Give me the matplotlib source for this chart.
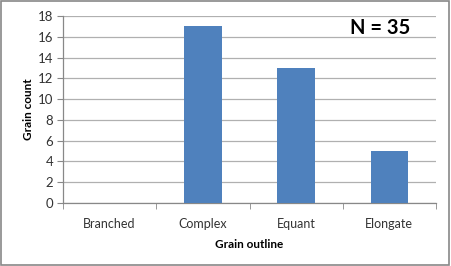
import numpy as np
import matplotlib.pyplot as plt
from matplotlib.patches import Rectangle

categories = ['Branched', 'Complex', 'Equant', 'Elongate']
counts = [0, 17, 13, 5]
n_total = 35

plt.rcParams['font.family'] = ['Lato', 'DejaVu Sans']

fig = plt.figure(figsize=(4.51, 2.66), dpi=100)
ax = fig.add_axes([63 / 451, 63 / 266, 373 / 451, 187 / 266])

x = np.arange(len(categories))
ax.bar(x, counts, width=0.4, color='#4F81BD', zorder=3)

ax.set_xlim(-0.5, len(categories) - 0.5)
ax.set_ylim(0, 18)
ax.set_yticks(np.arange(0, 19, 2))
ax.yaxis.grid(True, color='#b0b0b0', linewidth=0.9, zorder=0)
ax.set_xticks(x)
ax.set_xticklabels(categories, fontsize=9, color='#333333')
ax.set_xticks(np.arange(-0.5, len(categories)), minor=True)
ax.tick_params(axis='x', which='major', length=0, pad=11)
ax.tick_params(axis='x', which='minor', length=4, color='#888888', direction='out')
ax.tick_params(axis='y', length=4, color='#888888', labelsize=9.5, labelcolor='#333333', pad=3)

for side in ['top', 'right']:
    ax.spines[side].set_visible(False)
for side in ['left', 'bottom']:
    ax.spines[side].set_color('#888888')
    ax.spines[side].set_linewidth(0.9)

ax.set_xlabel('Grain outline', fontsize=8.5, fontweight='bold', labelpad=6)
ax.set_ylabel('Grain count', fontsize=8.5, fontweight='bold', labelpad=3)

ax.text(0.849, 0.935, f'N = {n_total}', transform=ax.transAxes, fontsize=14.5,
        fontweight='bold', ha='center', va='center')

fig.patches.append(Rectangle((0.003, 0.005), 0.992, 0.99, transform=fig.transFigure,
                             fill=False, edgecolor='#888888', linewidth=1.2))

plt.savefig('out.png', dpi=100)
